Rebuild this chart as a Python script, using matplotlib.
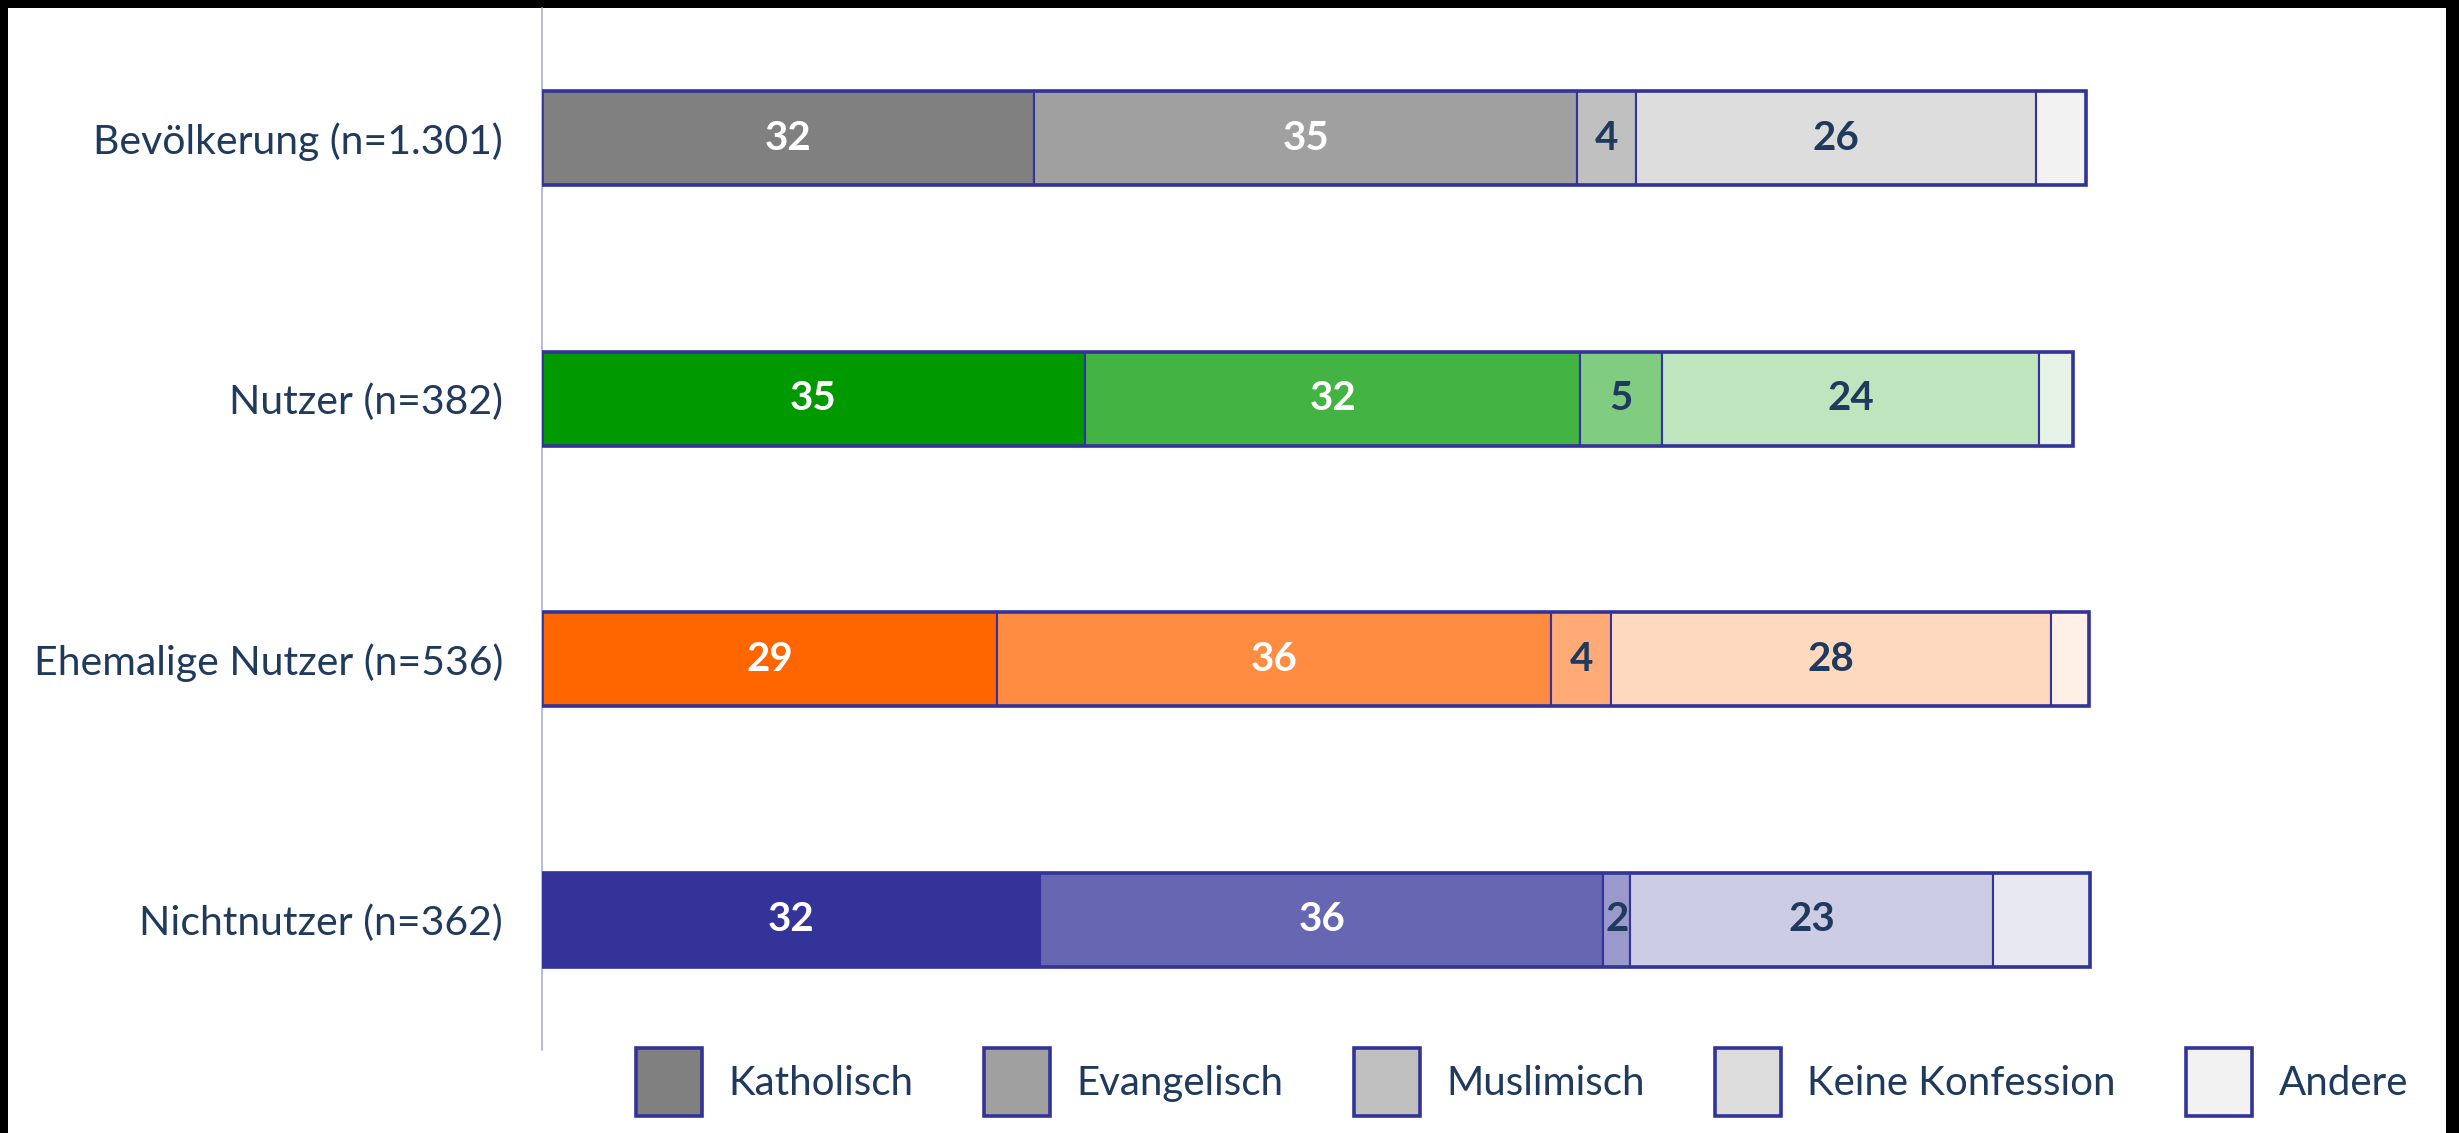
import numpy as np
import matplotlib.pyplot as plt
from matplotlib.patches import Patch, Rectangle

# data (percent)
groups = ['Bevölkerung (n=1.301)', 'Nutzer (n=382)',
          'Ehemalige Nutzer (n=536)', 'Nichtnutzer (n=362)']
confessions = ['Katholisch', 'Evangelisch', 'Muslimisch', 'Keine Konfession', 'Andere']
katholisch = [31.9, 35.2, 29.49, 32.3]
evangelisch = [35.2, 32.1, 35.9, 36.49]
muslimisch = [3.8, 5.3, 3.9, 1.75]
keine = [25.9, 24.4, 28.49, 23.49]
andere = [3.3, 2.2, 2.5, 6.3]

palettes = [
    ['#808080', '#A0A0A0', '#C0C0C0', '#DDDDDD', '#F2F2F2'],
    ['#009900', '#43B343', '#80CC80', '#BFE5BF', '#E6F3E6'],
    ['#FF6600', '#FF8C40', '#FFAA77', '#FFD9BF', '#FFF0E6'],
    ['#333399', '#6666B3', '#9999CC', '#CCCCE5', '#E8E8F3'],
]

EDGE = '#333399'
TXT = '#1F3A5C'

plt.rcParams['font.family'] = ['Lato', 'DejaVu Sans']

fig = plt.figure(figsize=(24.59, 11.33), dpi=100)
fig.patch.set_facecolor('black')
fig.add_artist(Rectangle((8 / 2459, 0), (2459 - 21) / 2459, 1 - 8 / 1133,
                         transform=fig.transFigure, facecolor='white',
                         edgecolor='none', zorder=-10))

ax = fig.add_axes([542 / 2459, 1 - 1050 / 1133, (2446 - 542) / 2459, (1050 - 8) / 1133])
ax.set_facecolor('none')

series = np.array([katholisch, evangelisch, muslimisch, keine, andere])
y = np.arange(len(groups))
h = 0.36
left = np.zeros(len(groups))
for j, vals in enumerate(series):
    cols = [palettes[i][j] for i in range(len(groups))]
    ax.barh(y, vals, left=left, height=h, color=cols, edgecolor=EDGE, linewidth=1.5, zorder=2)
    if j < 4:
        for i, v in enumerate(vals):
            ax.text(left[i] + v / 2, y[i], f'{v:.0f}', ha='center', va='center',
                    fontsize=29, fontweight='bold', color='white' if j < 2 else TXT, zorder=4)
    left += vals

# outer frame of each bar
ax.barh(y, series.sum(axis=0), height=h, fill=False, edgecolor=EDGE, linewidth=2.6, zorder=3)

ax.set_xlim(0, 123.4)
ax.set_ylim(3.5, -0.5)
ax.set_yticks(y)
ax.set_yticklabels(groups, fontsize=29.5, color=TXT)
ax.tick_params(axis='y', length=0, pad=28)
ax.set_xticks([])
for s in ['top', 'right', 'bottom']:
    ax.spines[s].set_visible(False)
ax.spines['left'].set_color('#A8A8D0')
ax.spines['left'].set_linewidth(1.1)

handles = [Patch(facecolor=c, edgecolor=EDGE, linewidth=2.6) for c in palettes[0]]
fig.legend(handles, confessions, loc='center', bbox_to_anchor=(0.619, 0.045), ncol=5,
           frameon=False, fontsize=29, handlelength=1.64, handleheight=2.2,
           handletextpad=0.65, columnspacing=1.75, labelcolor=TXT)

fig.savefig('out.png', dpi=100, facecolor=fig.get_facecolor())
